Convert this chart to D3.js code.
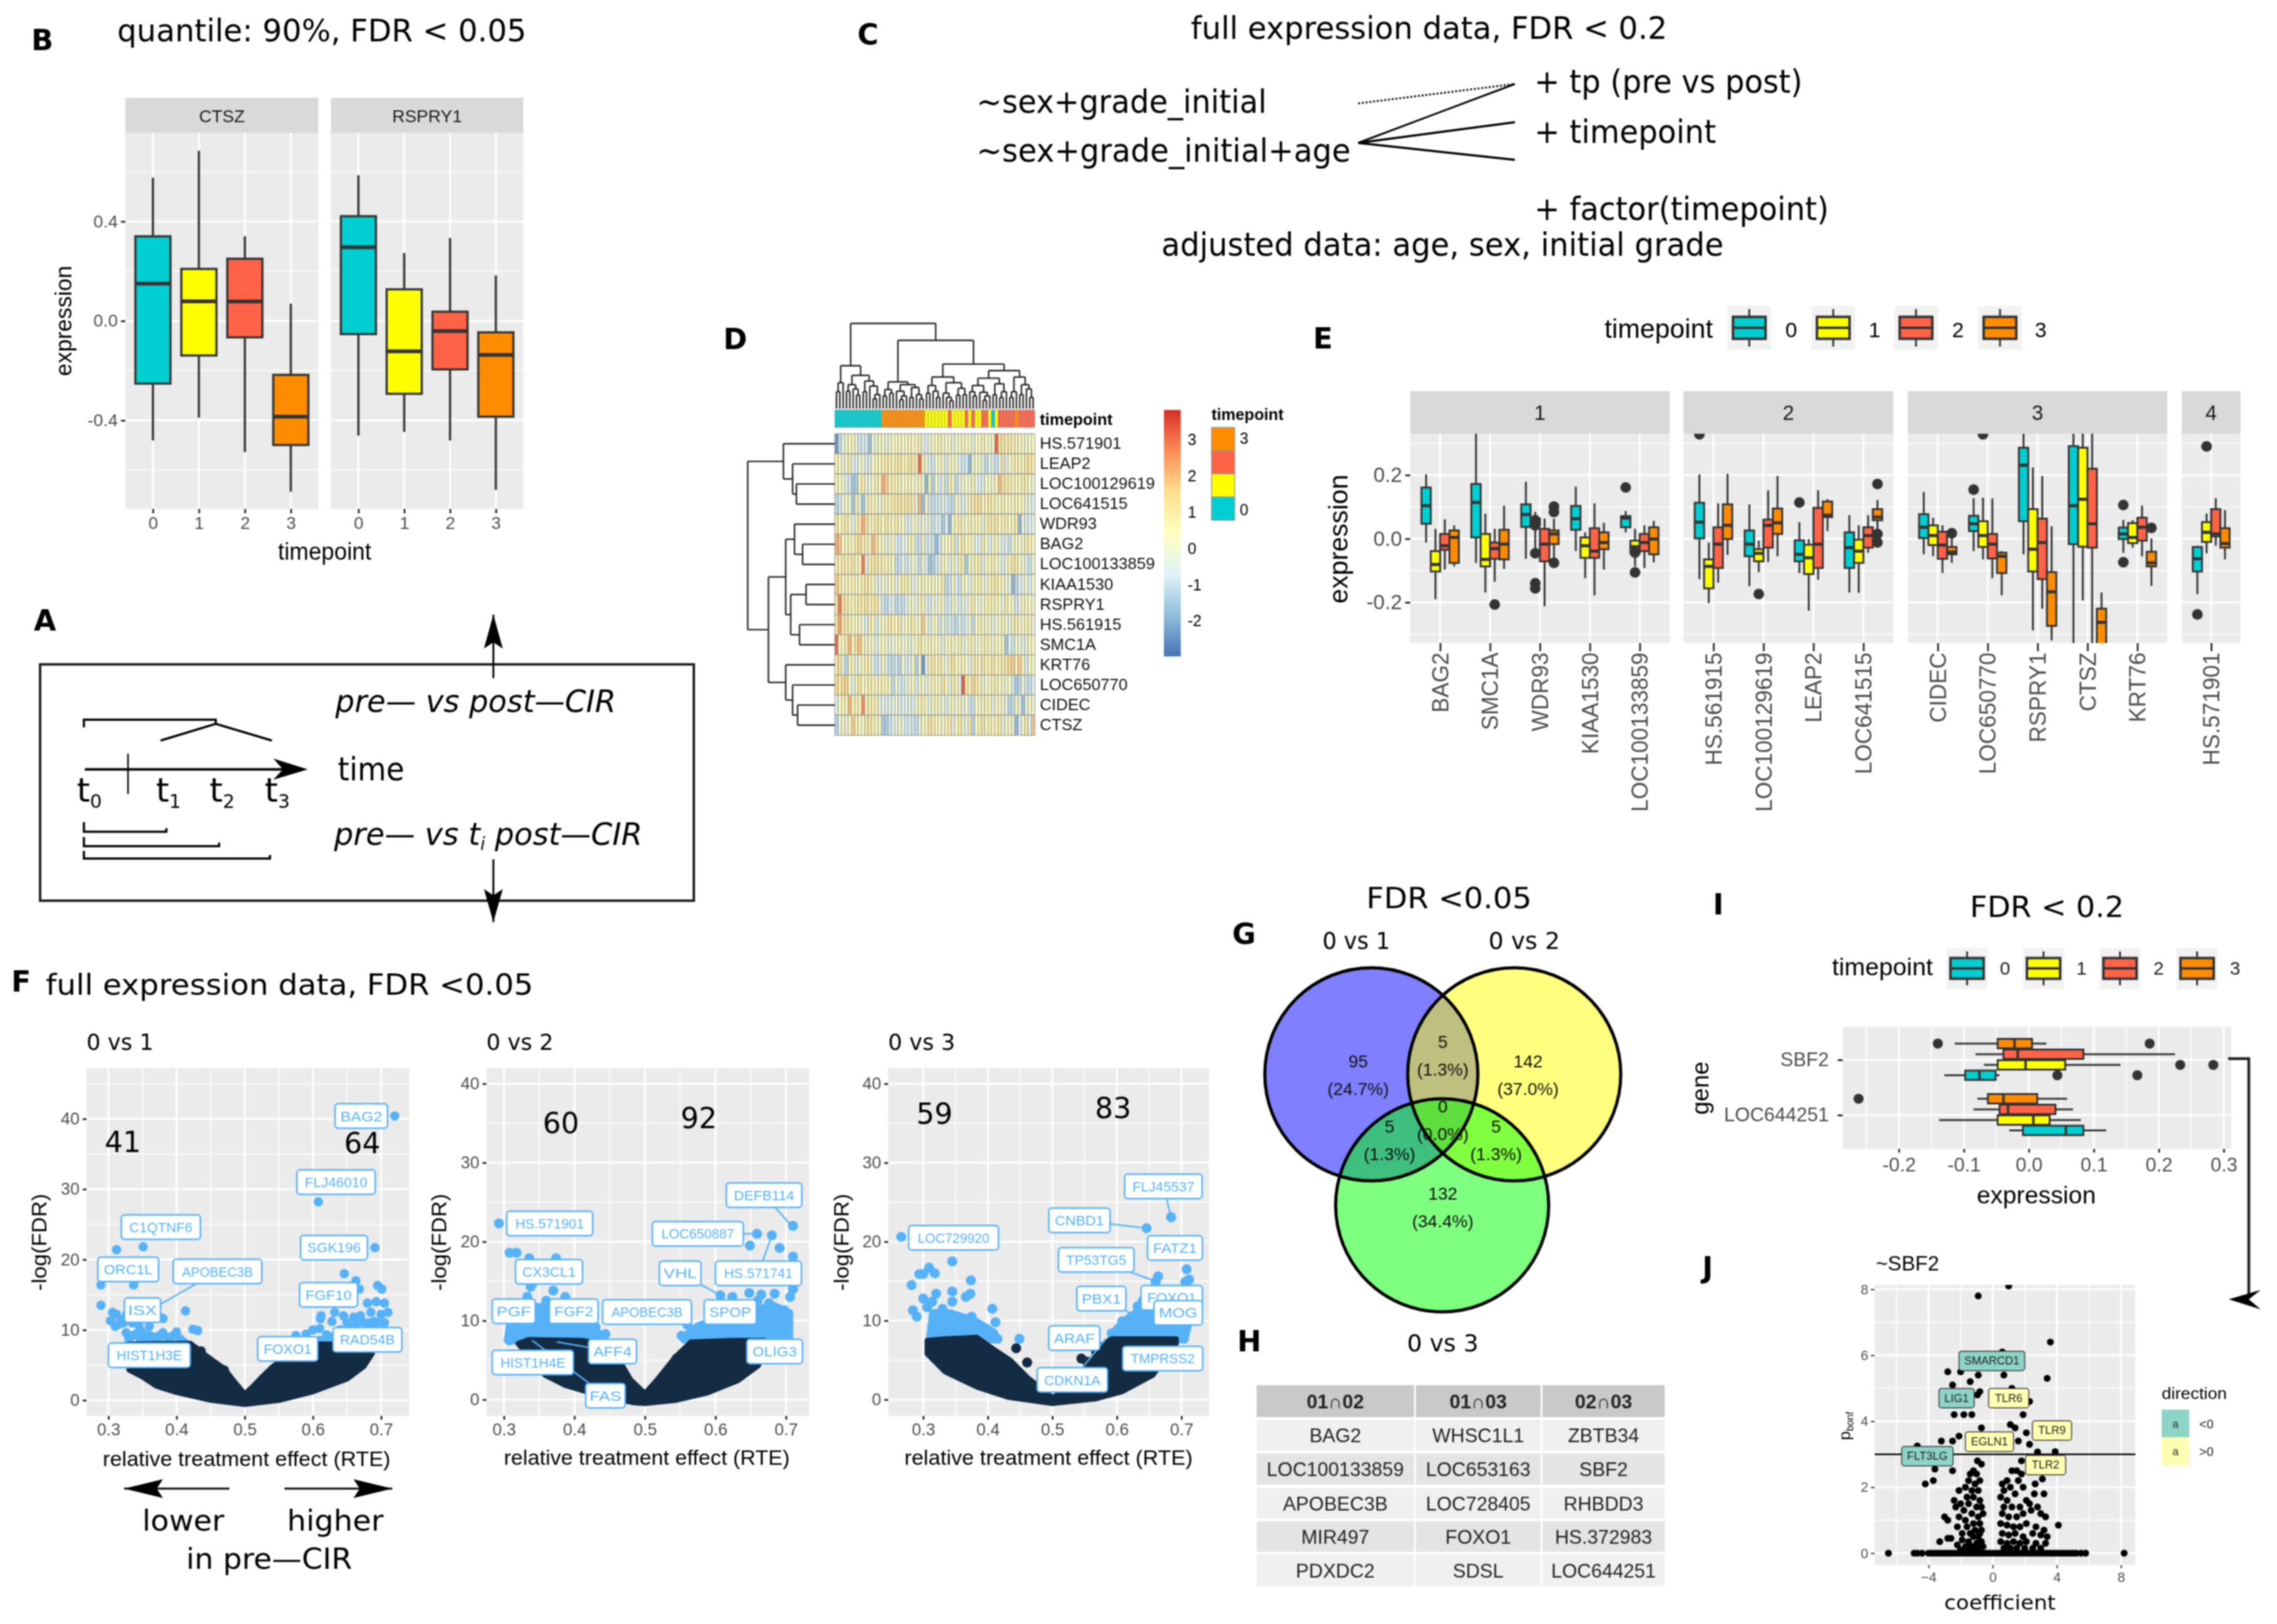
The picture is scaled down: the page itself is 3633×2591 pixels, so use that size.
<!DOCTYPE html>
<html><head><meta charset="utf-8">
<style>html,body{margin:0;padding:0;background:#fff}svg{display:block;filter:blur(1.1px)}</style>
<script src="https://cdn.jsdelivr.net/npm/d3@7"></script></head><body>
<script>
const TP=["0","1","2","3"];
const TP_COLORS=["#00CED1","#FFFF00","#FF6347","#FF8C00"];
// panel B: [whisker high, q3, median, q1, whisker low]
const bCTSZ=[[.576,.34,.15,-.252,-.481],[.684,.209,.079,-.139,-.389],[.34,.25,.078,-.066,-.527],[.069,-.217,-.385,-.499,-.687]];
const bRSPRY1=[[.585,.421,.296,-.053,-.461],[.273,.127,-.122,-.293,-.446],[.333,.037,-.041,-.195,-.481],[.183,-.046,-.137,-.385,-.679]];
// panel E: [high,q3,median,q1,low,[outliers]]
const eBAG2=[[.202,.161,.104,.047,-.012],[.031,-.039,-.081,-.103,-.19],[.061,.015,-.022,-.035,-.097],[.042,.026,.004,-.076,-.087]];
const eSMC1A=[[.34,.172,.114,.004,-.076],[.079,.015,-.065,-.087,-.169],[.031,-.012,-.031,-.063,-.135,[-.207]],[.104,.028,-.017,-.065,-.095]];
const eWDR93=[[.179,.108,.076,.037,-.063],[.084,.063,.052,.042,-.044,[.058,.042,-.046,-.14,-.156]],[.063,.031,-.017,-.071,-.212],[.063,.026,.015,-.017,-.06,[.101,.084,-.076]]];
const eKIAA1530=[[.164,.103,.063,.028,-.039],[.02,.004,-.022,-.06,-.124],[.111,.033,-.039,-.06,-.178],[.05,.02,-.012,-.033,-.097]];
const eLOC100133859=[[.087,.071,.065,.036,.02,[.161]],[.031,-.006,-.025,-.044,-.087,[-.044,-.106]],[.042,.015,-.012,-.039,-.092],[.056,.036,-.001,-.049,-.074]];
const eHS561915=[[.202,.113,.052,.001,-.127,[.328]],[-.012,-.065,-.087,-.156,-.202],[.111,.036,-.017,-.092,-.138],[.204,.108,.042,-.001,-.051]];
const eLOC100129619=[[.108,.026,-.017,-.055,-.149],[-.006,-.033,-.046,-.071,-.105,[-.174]],[.152,.06,.042,-.028,-.073],[.197,.095,.05,.015,-.055]];
const eLEAP2=[[.052,-.005,-.049,-.071,-.108,[.114]],[-.001,-.019,-.06,-.111,-.226],[.152,.097,-.017,-.092,-.129],[.124,.117,.074,.068,.024]];
const eLOC641515=[[.074,.02,-.028,-.092,-.169],[.042,-.003,-.039,-.076,-.17],[.074,.036,.01,-.028,-.044],[.122,.093,.068,.058,.02,[.172,.015,-.012]]];
const eCIDEC=[[.147,.077,.036,.002,-.049],[.066,.042,.01,-.02,-.055],[.042,.022,-.02,-.063,-.108],[.004,-.026,-.042,-.049,-.076,[.017]]];
const eLOC650770=[[.127,.072,.047,.024,-.039,[.154]],[.129,.055,.01,-.026,-.065,[.328]],[.127,.015,-.017,-.062,-.124],[-.039,-.044,-.055,-.108,-.178]];
const eRSPRY1=[[.34,.286,.231,.055,-.049],[.224,.093,-.033,-.103,-.288],[.197,.063,-.012,-.127,-.22],[.039,-.105,-.167,-.274,-.32]];
const eCTSZ=[[.34,.291,.104,-.017,-.34],[.34,.286,.124,-.025,-.194],[.34,.22,.047,-.028,-.34],[-.169,-.22,-.263,-.343,-.365]];
const eKRT76=[[.059,.035,.015,-.001,-.044,[.106,-.074]],[.058,.049,.004,-.014,-.028],[.104,.066,.036,-.006,-.055],[.001,-.041,-.076,-.087,-.148,[.034]]];
const eHS571901=[[-.022,-.026,-.063,-.103,-.174,[-.238]],[.079,.052,.02,-.01,-.046,[.29]],[.127,.093,.015,.007,-.022],[.09,.033,-.015,-.028,-.065]];
const eFacetNames=["1","2","3","4"];
const eFacet1=["BAG2","SMC1A","WDR93","KIAA1530","LOC100133859"];
const eFacet2=["HS.561915","LOC100129619","LEAP2","LOC641515"];
const eFacet3=["CIDEC","LOC650770","RSPRY1","CTSZ","KRT76"];
const eFacet4=["HS.571901"];
// panel I
const iSBF2=[[-.045,-.051,-.076,-.098,-.13,[.044,.167]],[.141,.056,-.005,-.048,-.069,[.233,.284]],[.225,.084,-.017,-.039,-.082],[.027,.005,-.022,-.048,-.114,[-.14,.186]]];
const iLOC644251=[[.119,.084,.057,-.009,-.03],[.08,.032,.007,-.048,-.138],[.068,.041,-.032,-.045,-.085],[.059,.013,-.039,-.063,-.079,[-.262]]];
// panel D
const hmRows=["HS.571901","LEAP2","LOC100129619","LOC641515","WDR93","BAG2","LOC100133859","KIAA1530","RSPRY1","HS.561915","SMC1A","KRT76","LOC650770","CIDEC","CTSZ"];
const hmTime=[0,0,0,0,0,0,0,0,0,0,0,0,0,0,3,3,3,3,3,3,3,3,3,3,3,3,3,1,1,1,1,1,1,1,2,1,1,1,1,2,1,2,1,1,2,2,1,0,1,2,2,2,2,2,3,2,2,2,2,2];
const hmR0=[-2.5,-1.2,-.3,.3,.5,.6,-.2,-.9,-.8,-.7,-1.8,.1,-.1,.5,.1,-.2,.1,.4,.3,.5,.2,.3,.6,.5,.3,.9,-.4,-.6,.1,.4,.6,.8,.3,.2,.4,-.2,.1,.5,.3,.6,.3,-.3,.5,.3,.8,.3,.1,.5,3.3,1.5,1.2,.9,1.1,.7,.8,.6,.2,.1,.3,.5];
const hmR1=[.6,.5,-.4,.4,1,-.6,-.7,.5,-.2,-.4,-.8,.4,.7,.5,.9,.9,.8,.7,1,1,.8,.6,1.1,1.1,.9,3.2,.9,-.2,-.5,-.9,.2,.5,.2,-.9,.4,.5,.1,-.6,-.8,-.8,-1.9,.2,.3,.1,-.1,-1.2,-.2,-.6,-1,-.4,1.4,-.7,.5,.7,.8,.7,.6,1.3,1.2,.9];
const hmR2=[.6,.4,.1,-.4,-.9,-1.6,-1.4,.5,1.1,-.2,-.1,.2,.9,.2,2.3,1.8,.5,.9,.6,.6,.2,.5,.6,.2,.1,.7,.1,-2,.7,-1.4,.3,-.8,-.2,-1.1,.9,.3,-1.2,-.2,.1,.2,.1,.7,-.2,-.5,-.7,.4,.2,.2,.3,2.1,1.2,.9,1,.3,.4,.5,1,.8,.4,-.1];
const hmR3=[-1.2,-.9,.1,.3,.1,-1.6,.8,-.2,-1.7,.1,.8,.6,.3,-.2,1,.7,.4,1.1,1,1,1.1,1.2,.9,1,-.3,2.1,-1.8,.6,-.9,-1,-.9,-.8,-.4,-.8,-1,-1.1,.5,-.4,-.3,-.5,.9,.8,1.4,1.6,.4,.8,1.1,.6,.6,.3,.8,.4,.6,.3,.6,.5,.6,-.3,-.2,-.5];
const hmR4=[1.2,.3,.9,1,.5,-.7,.7,1,2.3,1.3,.3,.8,1.1,1,.4,1.2,.6,.5,1,.2,.5,-.7,-.5,.2,.6,-.5,.1,-.2,-.2,-1,-.5,-.6,-1.5,-.6,-1.9,.4,.7,1,.2,.1,.9,.3,.8,.5,-.3,.8,1.1,.9,1.2,.4,.6,.8,.5,.5,1,-2,.1,-.7,-.6,-.2];
const hmR5=[2.2,2,.3,.4,.7,.5,1.2,1.6,.9,.6,.3,2.1,1.2,.2,.8,-.5,.1,.6,-.7,-.8,-.3,-.3,.7,.6,-.9,-1,.9,-.9,-.5,-.9,-1.9,-.9,.3,.1,.5,.8,-1,.7,.9,.5,.6,.4,-.6,-.5,1,.3,-.7,.3,.7,-.1,-.6,-.5,-1,.2,.3,.2,.1,.9,.8,.5];
const hmR6=[.9,.8,1.1,.6,.8,1.2,.3,.5,3,-.3,.8,1.2,1.1,.8,.9,.5,.6,.4,-1.1,-1,-.3,-.9,-.4,.2,-.3,-1.1,.2,-.7,-1.6,-1.4,-.9,-.2,.6,.3,-.6,.7,-.5,1,.9,-1.6,.5,.2,.8,1,-.7,.6,.6,.8,.4,-.2,-.5,.1,.7,1.2,1,.3,.1,-.4,-1,.2];
const hmR7=[1.8,1.4,.2,.7,.6,.8,.6,.3,1,1.1,.8,.6,-.3,-.4,.2,-.2,.4,.6,-.3,.3,1,.9,.5,-.5,-.2,.3,.7,.2,.5,.1,.6,.3,.9,-1.2,-.9,.4,-.7,-1,.5,.2,-.4,.5,.7,.9,.2,-.3,.8,.9,1.1,.6,.2,.1,-.3,-2,-1.2,-.6,-.3,.3,-.8,.4];
const hmR8=[1.3,3,1.2,.9,.7,.5,.8,1.1,.9,1.2,.7,1,1.1,.2,-.9,-1.1,-.6,-.4,-1.2,-.9,-1.1,-.5,.3,.2,-.4,.6,.8,-.6,-.8,.3,-.5,.5,.2,-.9,-.7,.6,-.3,-.8,.1,-.6,.5,.8,.2,-.3,.4,.7,.9,.5,.6,.3,-.2,1,.4,.2,-.9,-.2,.7,.3,.5,.1];
const hmR9=[1.2,2.5,1.1,.8,.9,.5,.3,.6,-.2,-.6,.9,.5,-.8,.3,.1,.6,1,.9,.4,1,-.3,.5,.6,1,.2,.3,1.9,.2,-.8,.4,.6,-.9,.3,-1,-.4,-.9,-1.2,-.3,-.9,-.6,.2,-1.1,.3,.8,.5,-.1,.6,-.5,.1,.2,.7,.3,-.5,.9,1,.1,.5,.3,.9,-.3];
const hmR10=[3.2,.6,.3,.9,2.2,.4,1.5,2,.6,.1,.5,.1,-.6,.4,.2,.5,-.4,.1,.2,.6,-.2,.3,-.3,.1,.4,1.1,.5,.3,.8,.2,.6,.1,-.5,.7,.4,.6,.2,.9,-.3,.1,.7,.5,-.2,.3,.6,.9,.2,.1,.5,.4,.7,-1.7,-.5,-.9,.3,.1,-.4,-.1,.6,.3];
const hmR11=[.9,1.5,-.3,-1.2,.8,.6,-.4,.2,.5,.7,.9,-.4,-.9,-.7,.8,-.6,-1,-1.2,-.8,-1.3,.3,-.8,-.3,.5,-1.4,.2,-2.5,-.4,.7,1,.6,.9,.3,-.2,.8,1.2,.4,.6,.5,.3,-.5,.8,1,.2,1.2,.6,.7,1.3,.4,.8,.9,1.1,1.6,1.8,.7,1.8,.4,-.8,.5,.3];
const hmR12=[1.5,.9,1.6,1.7,.3,-.5,.6,1.2,.4,.5,.9,.7,.1,.6,.8,.5,.2,-1.2,.3,-.7,-.9,-.2,.1,.5,-.8,.2,.4,-.4,.3,.7,.6,.2,1.2,.5,-.3,.9,.8,-.5,3.4,1.3,.5,1.6,1.1,.6,-.2,.4,.2,.7,.9,.2,.6,.1,.4,-.8,-1.5,-1.2,.2,-.9,-1.1,-.5];
const hmR13=[-.5,.3,.7,.4,2.2,.6,.8,.5,2.8,.4,.9,.7,.6,-.2,-.4,-.6,-.3,-.5,.2,-.5,-.7,-.4,-.2,-.6,.1,.7,.9,.3,-.4,.5,.8,-.1,.4,-.8,.3,.6,.1,.7,-.2,.2,-.9,-1,.4,.6,.1,.8,.5,-.3,.2,.6,.1,-.3,-1.3,-1.1,.6,-.4,-1.7,-.2,.3,.1];
const hmR14=[-1.3,-.4,.6,-.2,.5,1.8,.6,.4,.3,1,1.2,.9,.2,.5,-1.5,-1.4,-.9,-.5,-.3,.4,-.4,-.8,-.6,-.9,-1.1,-.3,.5,.6,1.2,.8,.6,.4,.2,.8,1,-.5,.6,1.1,.2,-.4,1.2,-1.3,.5,.8,1.3,.2,.9,.4,.7,1.1,-.3,.2,.6,-.2,-1.9,-.8,.4,1.1,-.7,1.9];
// merge trees [height, left, right]; 0 = leaf
const dendA=[152,[92,[60,0,0],0],[118,[85,[62,0,0],[70,0,[48,0,0]]],[98,[60,0,0],[80,0,[50,[35,0,0],0]]]]];
const dendB=[95,[68,[45,0,0],[55,0,0]],[85,[62,0,[45,[32,0,0],0]],[75,[40,0,0],[50,0,[35,0,0]]]]];
const dendC=[112,[82,[55,0,0],[62,0,[40,0,0]]],[92,[55,0,[40,0,[28,0,0]]],[72,[48,0,0],[50,0,0]]]];
const dendD=[108,[82,[60,0,[45,0,0]],[58,0,[45,[30,0,0],0]]],[88,[50,0,0],[60,[40,0,0],0]]];
const dendE=[112,[60,[40,0,0],0],[85,[50,0,0],[70,0,[40,0,0]]]];
const dendCols=[302,dendA,[242,dendB,[158,dendC,[135,dendD,dendE]]]];
const dendRows=[227,[134,0,[110,0,[100,0,0]]],[173,[128,[105,0,[84,0,0]],[115,[75,0,0],[92,0,0]]],[128,0,[110,0,[97,0,0]]]]];
// panel F: [RTE, -log(FDR)]
const f1Mass=[[.33,8],[.42,8.1],[.433,7.2],[.44,6.6],[.47,4.5],[.482,3],[.5,.9],[.51,1.8],[.525,3.3],[.541,4.8],[.572,7],[.6,8],[.633,8],[.687,7],[.687,6.6],[.675,4.8],[.65,3],[.6,1.2],[.552,0],[.5,-.6],[.45,0],[.4,1.1],[.37,2],[.35,3.3],[.33,4.3]];
const f1Dark=[[.436,7],[.447,5.7],[.47,4.3],[.48,2.6],[.545,4.4]];
const f1Light=[[.72,40.4],[.608,28.2],[.312,21.4],[.351,21.8],[.691,21.7],[.289,16.4],[.337,16.4],[.289,13.5],[.646,18],[.663,17],[.668,15.8],[.695,16.3],[.701,15.8],[.413,12.7],[.424,10.1],[.431,9.9],[.632,12.5],[.303,11.3],[.306,12.5],[.312,12.2],[.318,11.5],[.322,11],[.31,10.5],[.326,9.6],[.33,8.9],[.335,9.2],[.34,9.4],[.345,9],[.35,9.6],[.355,8.8],[.36,9.2],[.365,9],[.37,8.8],[.375,9.2],[.38,9.6],[.385,9],[.39,8.7],[.395,9.2],[.4,9.7],[.405,8.7],[.327,12.3],[.335,11],[.345,10.5],[.36,10.5],[.375,11.8],[.38,11.6],[.33,8.2],[.345,8],[.36,8],[.375,8],[.39,8],[.41,8.3],[.315,10.8],[.575,9.2],[.59,9.4],[.6,10],[.61,10.2],[.611,11.6],[.612,12],[.62,9.3],[.628,11.2],[.645,12],[.65,11],[.655,10.5],[.66,11.8],[.665,11],[.67,12],[.675,11],[.68,13.8],[.682,11],[.685,12.5],[.69,11.2],[.693,14],[.695,11],[.7,12.2],[.705,13.8],[.71,12.5],[.705,11],[.69,10.5],[.68,10],[.66,10],[.64,10],[.63,9],[.62,8.5],[.61,8.5],[.645,9],[.66,9],[.675,9],[.69,9]];
const f1Labels=[["BAG2",.671,40.4,.077],["FLJ46010",.634,31,.115],["C1QTNF6",.377,24.6,.116],["SGK196",.631,21.7,.098],["ORC1L",.329,18.6,.089],["APOBEC3B",.46,18.3,.13,.338,11.5],["ISX",.35,12.8,.053],["FGF10",.623,15,.085],["FOXO1",.563,7.3,.088],["RAD54B",.68,8.6,.101],["HIST1H3E",.36,6.4,.12]];
const f2Mass=[[.32,7.1],[.335,7.6],[.41,7.5],[.439,7.1],[.461,5.4],[.48,2.5],[.5,.8],[.517,2.5],[.543,5.4],[.565,7.3],[.624,7.5],[.669,7.5],[.669,6.1],[.661,4.3],[.632,2.4],[.587,.8],[.543,-.1],[.5,-.5],[.484,-.4],[.432,.6],[.387,1.8],[.358,3.1]];
const f2BandL=[[.305,7.5],[.31,10.5],[.33,11.5],[.37,12],[.4,10.8],[.42,9.5],[.44,8],[.44,7.4]];
const f2BandR=[[.555,7.6],[.565,8.8],[.58,9.5],[.62,10],[.65,11],[.68,12],[.705,11],[.705,7.6]];
const f2Dark=[[.545,5.2]];
const f2Light=[[.293,22.3],[.308,18.6],[.318,18.6],[.336,17.9],[.374,17.9],[.338,14.3],[.37,13.8],[.308,7.5],[.333,13],[.387,13],[.552,8.1],[.71,22],[.659,21],[.68,20.8],[.649,19.5],[.691,19.2],[.71,18.1],[.71,14],[.706,13],[.607,13.2],[.624,13],[.648,13.5],[.665,13.3],[.684,13.4],[.676,12.2],[.698,11.3],[.669,10.9],[.697,9.6],[.31,10.3],[.345,11.6],[.38,10.8],[.41,9.8],[.43,9.2],[.444,8.3],[.32,9],[.42,9],[.36,12.5],[.6,10],[.59,9.2],[.56,9.5],[.64,12],[.655,11.5],[.66,12.5]];
const f2Labels=[["DEFB114",.669,25.9,.107,.708,22],["HS.571901",.365,22.3,.122],["LOC650887",.575,21,.129,.659,21],["HS.571741",.661,16,.122,.68,20.8],["VHL",.55,16,.059,.607,13.2],["CX3CL1",.364,16.2,.095,.325,12.5],["PGF",.314,11.2,.061],["FGF2",.399,11.2,.069],["APOBEC3B",.503,11.1,.126],["SPOP",.621,11.1,.074],["AFF4",.454,6.1,.068,.375,7.3],["OLIG3",.684,6.1,.079],["HIST1H4E",.341,4.7,.115],["FAS",.444,.5,.056,.34,7.5]];
const f3Mass=[[.306,7.5],[.334,7.7],[.383,7.9],[.407,6.5],[.435,5],[.463,2.7],[.5,.3],[.527,1.4],[.551,3.9],[.576,6.9],[.592,7.7],[.692,7.7],[.692,7.1],[.656,3.1],[.608,1],[.568,.1],[.5,-.5],[.431,.3],[.383,1.6],[.334,3.5],[.306,5.8]];
const f3BandL=[[.31,7.6],[.315,11],[.34,11],[.38,10],[.41,8.5],[.415,7.6]];
const f3BandR=[[.59,7.6],[.6,9],[.62,10.5],[.65,12],[.7,12],[.712,10],[.705,7.6]];
const f3Dark=[[.444,6.5],[.461,4.7],[.545,5.2],[.554,4.8],[.568,6]];
const f3Light=[[.266,20.6],[.345,17.5],[.309,16.7],[.294,15.9],[.3,15.9],[.318,16],[.282,14.5],[.374,15.1],[.345,13.7],[.32,13.4],[.3,12.8],[.373,13.4],[.366,13],[.345,12.4],[.314,12.4],[.306,11.7],[.284,11.3],[.29,10.5],[.407,11.5],[.412,9.8],[.449,7.7],[.415,7.7],[.684,23.1],[.646,21.7],[.708,16.5],[.664,15.6],[.66,14.9],[.712,15.2],[.706,14.9],[.632,11.8],[.608,9.9],[.592,8.4],[.704,7.7],[.64,12.5],[.69,13],[.67,11],[.375,10.5],[.36,9.5],[.33,11.5],[.34,10.5]];
const f3Labels=[["FLJ45537",.672,27,.12,.684,23.1],["CNBD1",.542,22.7,.095,.646,21.7],["LOC729920",.347,20.5,.139],["FATZ1",.69,19.2,.085],["TP53TG5",.568,17.7,.117,.66,15],["PBX1",.576,12.8,.076,.632,10.5],["FOXO1",.685,12.9,.095],["MOG",.695,11,.075],["ARAF",.534,7.8,.079],["TMPRSS2",.671,5.2,.124],["CDKN1A",.531,2.5,.109,.583,7.7]];
// panel G
const vennNames=["0 vs 1","0 vs 2","0 vs 3"];
const vennCounts=[95,5,142,0,5,5,132];
// panel H
const tableHead=["01∩02","01∩03","02∩03"];
const tableCol1=["BAG2","LOC100133859","APOBEC3B","MIR497","PDXDC2"];
const tableCol2=["WHSC1L1","LOC653163","LOC728405","FOXO1","SDSL"];
const tableCol3=["ZBTB34","SBF2","RHBDD3","HS.372983","LOC644251"];
// panel J: [coefficient, p]
const jPoints=[[1,8.1],[-.9,7.8],[3.6,6.4],[.6,6.1],[-2.8,5.5],[-2,5.5],[-2.5,5.1],[-1.4,5.2],[-.9,5.4],[.7,5.4],[3.4,5.3],[1.2,5],[-.8,4.9],[-.95,4.8],[2.3,4.6],[-2.4,4.2],[-1.8,4.2],[-1.3,4.2],[1.9,4.2],[-.7,3.8],[1.1,3.9],[1.4,3.8],[2.1,3.65],[-3.2,3.4],[-2.1,3.55],[-2.5,3.4],[-4.7,3.25],[1.6,3.4],[2.3,3.3],[2.8,3.07],[3.9,3.08],[1.8,2.8],[-.95,2.8],[-.7,2.7],[-3.6,2.55],[-2.5,2.5],[-3.7,2.2],[-4.2,2.1],[3.1,2.25],[2.65,2.1],[4.1,.85],
[-1.4,2.4],[-1.2,2.5],[-1,2.4],[-1.5,2.2],[-1.1,2.1],[-.8,2.2],[-1.7,2],[-1.3,1.9],[-.9,1.9],[-2.1,1.9],[-1.6,1.7],[-1.2,1.7],[-.8,1.6],[-2.4,1.6],[-2,1.5],[-1.5,1.5],[-1,1.4],[-.7,1.4],[-2.3,1.4],[-1.8,1.3],[-1.3,1.2],[-.9,1.1],[-.6,1.2],[-3,1.1],[-2.8,1],[-2.1,1.1],[-1.7,1],[-1.2,.9],[-.8,.9],[-2.2,.8],[-1.6,.8],[-1.1,.7],[-.7,.7],[-1.9,.6],[-1.4,.6],[-.9,.5],[-1.2,.5],[-2.8,.45],[-3.3,.35],[-2.6,.45],[-1.9,.4],[-1.5,.35],[-1,.3],[-.7,.35],[-2.2,.25],[-1.7,.2],[-1.3,.2],[-.9,.15],[-.6,.2],[-2,.1],[-1.5,.1],[-1.1,.1],[-.8,.6],
[.6,2.1],[.9,2.2],[1.2,2.5],[1.5,2.5],[1.8,2.4],[.7,1.9],[1.1,2],[1.6,2.2],[1.9,2],[.5,1.7],[.9,1.6],[1.4,1.8],[2.1,1.6],[2.6,1.8],[3.2,1.8],[.7,1.4],[1.2,1.4],[1.7,1.4],[2.3,1.5],[2.8,1.4],[.6,1.2],[1,1.1],[1.5,1.1],[1.9,1.2],[2.4,1.3],[3,1.2],[3.3,1.1],[.5,.9],[.9,.85],[1.3,.8],[1.7,.8],[2.1,.9],[2.7,.8],[3.2,.7],[.6,.6],[1,.55],[1.4,.6],[1.9,.5],[2.5,.6],[3,.55],[3.4,.5],[.5,.35],[.9,.3],[1.3,.35],[1.7,.3],[2.1,.35],[2.7,.3],[3.3,.3],[.7,.15],[1.1,.15],[1.5,.15],[2,.15],[2.5,.15],[3,.15]];
const jZeroCoefs=[-6.5,-4.9,-4.7,-4.4,-4,-3.8,-3.6,-3.4,-3.2,-3,-2.8,-2.6,-2.4,-2.2,-2,-1.8,-1.6,-1.4,-1.2,-1,-.8,-.6,-.4,-.2,0,.2,.4,.6,.8,1,1.2,1.4,1.6,1.8,2,2.2,2.4,2.6,2.8,3,3.2,3.4,3.6,3.8,4,4.2,4.4,4.6,4.8,5,5.2,5.5,5.8,8.2];
const jLabels=[["SMARCD1",-.05,5.83,4.1,0],["LIG1",-2.25,4.7,2.2,0],["TLR6",1,4.7,2.5,1],["TLR9",3.7,3.72,2.44,1],["EGLN1",-.2,3.38,3,1],["FLT3LG",-4.07,2.94,3.2,0],["TLR2",3.3,2.67,2.5,1]];

const LIB="'Liberation Sans',Arial,sans-serif", DJV="'DejaVu Sans',sans-serif";
const TICK="#4D4D4D",BG="#EBEBEB",STRIP="#D9D9D9",LIGHT="#56B1F7",DARK="#132B43";
const W=3633,H=2591;
const svg=d3.select("body").append("svg").attr("width",W).attr("height",H).attr("viewBox",`0 0 ${W} ${H}`);
svg.append("rect").attr("width",W).attr("height",H).attr("fill","#fff");
const defs=svg.append("defs");
let clipN=0;
function T(g,str,x,y,o={}){
  const t=g.append("text").attr("x",x).attr("y",y).text(str)
    .attr("font-family",o.fam||LIB).attr("font-size",o.size||28)
    .attr("text-anchor",o.anchor||"start").attr("fill",o.fill||"#000");
  if(o.weight)t.attr("font-weight",o.weight);
  if(o.style)t.attr("font-style",o.style);
  if(o.len)t.attr("textLength",o.len).attr("lengthAdjust","spacingAndGlyphs");
  if(o.rot)t.attr("transform",`rotate(${o.rot} ${x} ${y})`);
  return t;
}
function L(g,x1,y1,x2,y2,c="#000",w=3){return g.append("line").attr("x1",x1).attr("y1",y1).attr("x2",x2).attr("y2",y2).attr("stroke",c).attr("stroke-width",w);}
function panelBg(g,x0,x1,y0,y1){g.append("rect").attr("x",x0).attr("y",y0).attr("width",x1-x0).attr("height",y1-y0).attr("fill",BG);}
function clip(x0,x1,y0,y1){const id="c"+(clipN++);defs.append("clipPath").attr("id",id).append("rect").attr("x",x0).attr("y",y0).attr("width",x1-x0).attr("height",y1-y0);return `url(#${id})`;}
function styleAxis(s,size,w=3){s.select(".domain").remove();s.selectAll(".tick line").attr("stroke","#333").attr("stroke-width",w);
  s.selectAll("text").attr("fill",TICK).attr("font-size",size).attr("font-family",LIB);}
function grid(g,r,xs,xm,ys,ym,mw=3){
  const [x0,x1,y0,y1]=r;
  ym.forEach(v=>L(g,x0,ys(v),x1,ys(v),"#fff",mw/2));
  xm.forEach(v=>L(g,xs(v),y0,xs(v),y1,"#fff",mw/2));
}
function grid2(g,r,xs,xM,ys,yM,mw=3){
  const [x0,x1,y0,y1]=r;
  yM.forEach(v=>L(g,x0,ys(v),x1,ys(v),"#fff",mw));
  xM.forEach(v=>L(g,xs(v),y0,xs(v),y1,"#fff",mw));
}
function vbox(g,cx,w,y,d,c,sw,mw){
  L(g,cx,y(d[0]),cx,y(d[4]),"#333",sw);
  g.append("rect").attr("x",cx-w/2).attr("y",y(d[1])).attr("width",w).attr("height",y(d[3])-y(d[1])).attr("fill",c).attr("stroke","#333").attr("stroke-width",sw);
  L(g,cx-w/2,y(d[2]),cx+w/2,y(d[2]),"#333",mw);
}
function hbox(g,cy,h,x,d,c,sw,mw){
  L(g,x(d[4]),cy,x(d[0]),cy,"#333",sw);
  g.append("rect").attr("y",cy-h/2).attr("x",x(d[3])).attr("height",h).attr("width",x(d[1])-x(d[3])).attr("fill",c).attr("stroke","#333").attr("stroke-width",sw);
  L(g,x(d[2]),cy-h/2,x(d[2]),cy+h/2,"#333",mw);
}
function key(g,x0,w,y0,h,pad,wh,c,sw){
  g.append("rect").attr("x",x0).attr("y",y0).attr("width",w).attr("height",h).attr("fill","#F2F2F2");
  const cx=x0+w/2,cy=y0+h/2;
  L(g,cx,y0+h/2-wh,cx,y0+h/2+wh,"#333",sw);
  g.append("rect").attr("x",x0+pad).attr("y",y0+h*0.25).attr("width",w-2*pad).attr("height",h*0.5).attr("fill",c).attr("stroke","#333").attr("stroke-width",sw+1);
  L(g,x0+pad,cy,x0+w-pad,cy,"#333",sw+1);
}
// Panel letters
[["B",50,80],["A",54,1006],["C",1368,71],["D",1154,557],["E",2095,556],["F",18,1582],["G",1966,1506],["H",1974,2156],["I",2733,1459],["J",2716,2038]].forEach(d=>T(svg,d[0],d[1],d[2],{fam:DJV,size:46,weight:"bold"}));

// ---- Panel B
{
  const g=svg.append("g");
  T(g,"quantile: 90%, FDR < 0.05",187,66,{fam:DJV,size:50,len:653});
  const y=d3.scaleLinear([-.756,.756],[812,212]);
  [[ "CTSZ",bCTSZ,200,508],["RSPRY1",bRSPRY1,528,835]].forEach(([n,data,x0,x1])=>{
    panelBg(g,x0,x1,212,812);
    g.append("rect").attr("x",x0).attr("y",156).attr("width",x1-x0).attr("height",56).attr("fill",STRIP);
    T(g,n,(x0+x1)/2,195,{anchor:"middle",size:28,fill:"#1A1A1A"});
    const x=d3.scalePoint(TP,[x0,x1]).padding(.6);
    grid(g,[x0,x1,212,812],x,[],y,[-.6,-.2,.2,.6]);
    grid2(g,[x0,x1,212,812],x,TP,y,[-.4,0,.4]);
    data.forEach((d,i)=>vbox(g,x(TP[i]),56,y,d,TP_COLORS[i],3.5,6));
    g.append("g").attr("transform","translate(0,812)").call(d3.axisBottom(x).tickSize(7).tickPadding(5)).call(s=>styleAxis(s,28));
    if(n==="CTSZ")g.append("g").attr("transform",`translate(${x0},0)`).call(d3.axisLeft(y).tickValues([-.4,0,.4]).tickFormat(d=>d.toFixed(1)).tickSize(7).tickPadding(5)).call(s=>styleAxis(s,28));
  });
  T(g,"expression",114,512,{anchor:"middle",size:36,rot:-90,len:176});
  T(g,"timepoint",518,893,{anchor:"middle",size:38,len:149});
}
// ---- Panel A
{
  const g=svg.append("g");
  g.append("rect").attr("x",64).attr("y",1060).attr("width",1043).attr("height",377).attr("fill","none").attr("stroke","#222").attr("stroke-width",4);
  const Y=p=>950+.3827*p, X=p=>p*.765;
  const arrow=(x,y1,y2,hb)=>{L(g,x,y1,x,y2,"#000",3);
    g.append("path").attr("fill","#000").attr("d",`M${x},${y2}L${x+15},${hb+(y2<y1?10:-10)}L${x},${hb}L${x-15},${hb+(y2<y1?10:-10)}Z`);};
  arrow(X(1029),Y(345),Y(80),Y(195));
  arrow(X(1029),Y(1100),Y(1362),Y(1250));
  T(g,"pre— vs post—CIR",535,Y(485),{fam:DJV,style:"italic",size:50,len:448});
  T(g,"time",539,Y(770),{fam:DJV,size:52,len:106});
  const tx=T(g,"pre— vs t",533,Y(1040),{fam:DJV,style:"italic",size:50});
  tx.append("tspan").text("i").attr("font-size",28).attr("dy",8);
  tx.append("tspan").text(" post—CIR").attr("dy",-8);
  tx.attr("textLength",492).attr("lengthAdjust","spacingAndGlyphs");
  const path=pts=>g.append("path").attr("d",d3.line()(pts)).attr("fill","none").attr("stroke","#000").attr("stroke-width",3.5);
  path([[X(175),Y(550)],[X(175),Y(518)],[X(450),Y(518)],[X(450),Y(535)]]);
  path([[X(335),Y(605)],[X(450),Y(535)],[X(567),Y(605)]]);
  L(g,X(177),Y(725),X(600),Y(725),"#000",4);
  L(g,X(267),Y(660),X(267),Y(828),"#000",2.5);
  g.append("path").attr("fill","#000").attr("d",`M${X(642)},${Y(725)}L${X(570)},${Y(680)}L${X(590)},${Y(725)}L${X(570)},${Y(768)}Z`);
  [["0",160],["1",325],["2",437],["3",552]].forEach(([s,p])=>{
    const t=T(g,"t",X(p),Y(860),{fam:DJV,size:54});
    t.append("tspan").text(s).attr("font-size",30).attr("dy",10);
  });
  [[945,985,347],[1007,1045,457],[1065,1097,563]].forEach(([a,b,c])=>path([[X(175),Y(a)],[X(175),Y(b)],[X(c),Y(b)],[X(c),Y(b-15)]]));
}
// ---- Panel C
{
  const g=svg.append("g");
  T(g,"full expression data, FDR < 0.2",1900,62,{fam:DJV,size:50,len:760});
  T(g,"~sex+grade_initial",1558,180,{fam:DJV,size:52,len:463});
  T(g,"~sex+grade_initial+age",1558,258,{fam:DJV,size:52,len:597});
  T(g,"+ tp (pre vs post)",2448,148,{fam:DJV,size:52,len:428});
  T(g,"+ timepoint",2448,228,{fam:DJV,size:52,len:290});
  T(g,"+ factor(timepoint)",2448,351,{fam:DJV,size:52,len:470});
  T(g,"adjusted data: age, sex, initial grade",1853,408,{fam:DJV,size:52,len:897});
  L(g,2167,165,2417,134,"#000",3).attr("stroke-dasharray","3 3");
  L(g,2167,228,2417,134,"#000",3);L(g,2167,228,2417,195,"#000",3.5);L(g,2167,228,2417,255,"#000",3.5);
}
// ---- Panel D
{
  const g=svg.append("g");
  const hm=[hmR0,hmR1,hmR2,hmR3,hmR4,hmR5,hmR6,hmR7,hmR8,hmR9,hmR10,hmR11,hmR12,hmR13,hmR14];
  const cols=d3.range(60);
  const x=d3.scaleBand(cols,[1332,1651]);
  const y=d3.scaleBand(hmRows,[692,1173]);
  const col=d3.scaleLinear([-2.96,-1.83,-.7,.43,1.56,2.69,3.82],["#4575B4","#91BFDB","#E0F3F8","#FFFFBF","#FEE090","#FC8D59","#D73027"]).clamp(true);
  hm.forEach((row,r)=>row.forEach((v,c)=>{
    g.append("rect").attr("x",x(c)).attr("y",y(hmRows[r])).attr("width",x.bandwidth()).attr("height",y.bandwidth()).attr("fill",col(v)).attr("stroke","#999").attr("stroke-width",1.3);
  }));
  hmTime.forEach((t,c)=>g.append("rect").attr("x",x(c)).attr("y",654).attr("width",x.bandwidth()).attr("height",28).attr("fill",TP_COLORS[t]).attr("stroke","#999").attr("stroke-width",.8));
  T(g,"timepoint",1659,678,{size:25,weight:"bold",len:116});
  hmRows.forEach(r=>T(g,r,1659,y(r)+y.bandwidth()/2+8,{size:26}).attr("fill","#111"));
  // dendrograms
  const dy=d3.scaleLinear([0,302],[652,516]);
  let i=0; const segs=[];
  const walk=(n,pos)=>{if(n===0){const p=pos(i++);return [p,0];}
    const a=walk(n[1],pos),b=walk(n[2],pos);
    segs.push([a[0],a[1],a[0],n[0]],[a[0],n[0],b[0],n[0]],[b[0],n[0],b[0],b[1]]);
    return [(a[0]+b[0])/2,n[0]];};
  walk(dendCols,c=>x(c)+x.bandwidth()/2);
  segs.forEach(s=>L(g,s[0],dy(s[1]),s[2],dy(s[3]),"#222",2.4));
  i=0; segs.length=0;
  const dx=d3.scaleLinear([0,227],[1332,1193]);
  walk(dendRows,r=>y(hmRows[r])+y.bandwidth()/2);
  segs.forEach(s=>L(g,dx(s[1]),s[0],dx(s[3]),s[2],"#222",2.4));
  // colour bar
  const ly=d3.scaleLinear([-2.96,3.82],[1046,654]);
  d3.range(-2.96,3.82,.03).forEach(v=>g.append("rect").attr("x",1857).attr("y",ly(v+.03)).attr("width",27).attr("height",3).attr("fill",col(v)));
  [3,2,1,0,-1,-2].forEach(v=>T(g,String(v),1895,ly(v)+9,{size:25}));
  T(g,"timepoint",1933,670,{size:25,weight:"bold",len:115});
  [3,2,1,0].forEach((t,k)=>g.append("rect").attr("x",1933).attr("y",682+k*37).attr("width",37).attr("height",37).attr("fill",TP_COLORS[t]).attr("stroke","#999").attr("stroke-width",1.5));
  T(g,"3",1978,708,{size:25});T(g,"0",1978,822,{size:25});
}
// ---- Panel E
{
  const g=svg.append("g");
  const eMap={"BAG2":eBAG2,"SMC1A":eSMC1A,"WDR93":eWDR93,"KIAA1530":eKIAA1530,"LOC100133859":eLOC100133859,"HS.561915":eHS561915,"LOC100129619":eLOC100129619,"LEAP2":eLEAP2,"LOC641515":eLOC641515,"CIDEC":eCIDEC,"LOC650770":eLOC650770,"RSPRY1":eRSPRY1,"CTSZ":eCTSZ,"KRT76":eKRT76,"HS.571901":eHS571901};
  T(g,"timepoint",2560,539,{size:42,len:173});
  [[2756,2858],[2890,2991],[3022,3124],[3156,3256]].forEach(([x0,lx],i)=>{
    key(g,x0,70,488,70,9,30,TP_COLORS[i],3);
    T(g,TP[i],lx,538,{size:34,anchor:"middle"});
  });
  const y=d3.scaleLinear([-.2,.2],[961,758]);
  const y0=692,y1=1026;
  const facets=[[eFacet1,2250,2664],[eFacet2,2686,3021],[eFacet3,3044,3458],[eFacet4,3481,3575]];
  facets.forEach(([genes,x0,x1],fi)=>{
    panelBg(g,x0,x1,y0,y1);
    g.append("rect").attr("x",x0).attr("y",624).attr("width",x1-x0).attr("height",68).attr("fill",STRIP);
    T(g,eFacetNames[fi],(x0+x1)/2,670,{anchor:"middle",size:33,fill:"#1A1A1A"});
    const x=d3.scalePoint(genes,[x0,x1]).padding(.6);
    grid(g,[x0,x1,y0,y1],x,[],y,[-.3,-.1,.1,.3]);
    grid2(g,[x0,x1,y0,y1],x,genes,y,[-.2,0,.2]);
    const inner=g.append("g").attr("clip-path",clip(x0,x1,y0,y1));
    const w=x.step()*.75/4;
    genes.forEach(gene=>eMap[gene].forEach((d,i)=>{
      const cx=x(gene)+(i-1.5)*w;
      vbox(inner,cx,w,y,d,TP_COLORS[i],3,5);
      (d[5]||[]).forEach(o=>inner.append("circle").attr("cx",cx).attr("cy",y(o)).attr("r",8.5).attr("fill","#333"));
    }));
    const ax=g.append("g").attr("transform",`translate(0,${y1})`).call(d3.axisBottom(x).tickSize(13).tickPadding(10)).call(s=>styleAxis(s,36,3));
    ax.selectAll("text").attr("transform","rotate(-90)").attr("text-anchor","end").attr("dy",".35em").attr("x",-15).attr("y",0);
    if(fi===0)g.append("g").attr("transform",`translate(${x0},0)`).call(d3.axisLeft(y).tickValues([-.2,0,.2]).tickFormat(d=>d.toFixed(1)).tickSize(8).tickPadding(5)).call(s=>styleAxis(s,33));
  });
  T(g,"expression",2150,860,{anchor:"middle",size:42,rot:-90,len:206});
}
// ---- Panel F
function volcano(o){
  const g=svg.append("g");
  const {r,xs,ys}=o; const [x0,x1,y0,y1]=r;
  panelBg(g,x0,x1,y0,y1);
  grid(g,r,xs,[.35,.45,.55,.65],ys,[5,15,25,35,45]);
  grid2(g,r,xs,[.3,.4,.5,.6,.7],ys,[0,10,20,30,40]);
  const inner=g.append("g").attr("clip-path",clip(x0,x1,y0,y1));
  const line=d3.line().x(d=>xs(d[0])).y(d=>ys(d[1])).curve(d3.curveLinearClosed);
  (o.bands||[]).forEach(b=>inner.append("path").attr("d",line(b)).attr("fill",LIGHT).attr("stroke",LIGHT).attr("stroke-width",12).attr("stroke-linejoin","round"));
  o.light.forEach(d=>inner.append("circle").attr("cx",xs(d[0])).attr("cy",ys(d[1])).attr("r",o.pr).attr("fill",LIGHT));
  inner.append("path").attr("d",line(o.mass)).attr("fill",DARK).attr("stroke",DARK).attr("stroke-width",8).attr("stroke-linejoin","round");
  o.dark.forEach(d=>inner.append("circle").attr("cx",xs(d[0])).attr("cy",ys(d[1])).attr("r",o.pr).attr("fill",DARK));
  o.labels.forEach(l=>{if(l.length>4)L(g,xs(l[1]),ys(l[2]),xs(l[4]),ys(l[5]),LIGHT,2.5);});
  o.labels.forEach(l=>{
    const cx=xs(l[1]),cy=ys(l[2]),w=xs(l[1]+l[3])-cx;
    g.append("rect").attr("x",cx-w/2).attr("y",cy-o.lh/2).attr("width",w).attr("height",o.lh).attr("rx",5).attr("fill","#fff").attr("stroke",LIGHT).attr("stroke-width",2.5);
    T(g,l[0],cx,cy+8,{anchor:"middle",size:22,fill:LIGHT,len:w*.8});
  });
  g.append("g").attr("transform",`translate(0,${y1})`).call(d3.axisBottom(xs).tickValues([.3,.4,.5,.6,.7]).tickFormat(d=>d.toFixed(1)).tickSize(6).tickPadding(6)).call(s=>styleAxis(s,27));
  g.append("g").attr("transform",`translate(${x0},0)`).call(d3.axisLeft(ys).tickValues([0,10,20,30,40]).tickSize(6).tickPadding(5)).call(s=>styleAxis(s,27));
  T(g,o.title,x0,o.titleY,{fam:DJV,size:36,len:107});
  T(g,"relative treatment effect (RTE)",o.xlab[0],o.xlab[1],{size:33,len:o.xlab[2]});
  T(g,"-log(FDR)",o.ylab,1982,{anchor:"middle",size:34,rot:-90,len:155});
  o.counts.forEach(c=>T(g,c[0],c[1],c[2],{fam:DJV,size:46,len:58}));
}
volcano({r:[138,653,1704,2259],xs:d3.scaleLinear([.3,.7],[173,608]),ys:d3.scaleLinear([0,40],[2234,1785]),pr:7.5,lh:39,mass:f1Mass,dark:f1Dark,light:f1Light,labels:f1Labels,title:"0 vs 1",titleY:1675,xlab:[164,2339,459],ylab:74,counts:[["41",167,1838],["64",549,1840]]});
volcano({r:[776,1291,1704,2259],xs:d3.scaleLinear([.3,.7],[804,1254]),ys:d3.scaleLinear([0,40],[2233,1729]),pr:8,lh:39,mass:f2Mass,dark:f2Dark,light:f2Light,bands:[f2BandL,f2BandR],labels:f2Labels,title:"0 vs 2",titleY:1675,xlab:[804,2337,456],ylab:712,counts:[["60",866,1808],["92",1086,1800]]});
volcano({r:[1417,1929,1704,2259],xs:d3.scaleLinear([.3,.7],[1473,1885]),ys:d3.scaleLinear([0,40],[2233,1729]),pr:8,lh:39,mass:f3Mass,dark:f3Dark,light:f3Light,bands:[f3BandL,f3BandR],labels:f3Labels,title:"0 vs 3",titleY:1675,xlab:[1443,2337,460],ylab:1354,counts:[["59",1462,1793],["83",1747,1784]]});
{
  const g=svg.append("g");
  T(g,"full expression data, FDR <0.05",73,1587,{fam:DJV,size:46,len:778});
  const harrow=(x1,x2,y,hb)=>{L(g,x1,y,x2,y,"#000",3);const s=x2>x1?1:-1;
    g.append("path").attr("fill","#000").attr("d",`M${x2},${y}L${hb-s*10},${y-15}L${hb},${y}L${hb-s*10},${y+15}Z`);};
  harrow(366,198,2375,250);harrow(454,626,2375,574);
  T(g,"lower",227,2442,{fam:DJV,size:46,len:131});
  T(g,"higher",458,2442,{fam:DJV,size:46,len:154});
  T(g,"in pre—CIR",297,2503,{fam:DJV,size:46,len:265});
}
// ---- Panel G
{
  const g=svg.append("g");
  T(g,"FDR <0.05",2180,1449,{fam:DJV,size:46,len:264});
  T(g,vennNames[0],2110,1514,{fam:DJV,size:38,len:108});
  T(g,vennNames[1],2375,1514,{fam:DJV,size:38,len:114});
  T(g,vennNames[2],2245,2156,{fam:DJV,size:38,len:114});
  const circ=[[2188,1714,"#0000FF"],[2416,1714,"#FFFF00"],[2301,1923,"#00FF00"]];
  circ.forEach(c=>g.append("circle").attr("cx",c[0]).attr("cy",c[1]).attr("r",170).attr("fill",c[2]).attr("fill-opacity",.5));
  circ.forEach(c=>g.append("circle").attr("cx",c[0]).attr("cy",c[1]).attr("r",170).attr("fill","none").attr("stroke","#000").attr("stroke-width",5));
  const total=d3.sum(vennCounts);
  const spots=[[2167,1693],[2302,1662],[2438,1693],[2302,1765],[2217,1797],[2387,1797],[2302,1904]];
  vennCounts.forEach((v,i)=>{
    T(g,String(v),spots[i][0],spots[i][1]+10,{anchor:"middle",size:28,fill:"#111"});
    T(g,`(${(v/total*100).toFixed(1)}%)`,spots[i][0],spots[i][1]+54,{anchor:"middle",size:28,fill:"#111"});
  });
}
// ---- Panel H
{
  const g=svg.append("g");
  const cx=[[2005,2256],[2259,2458],[2461,2656]];
  const rows=[[2210,2261],[2265,2315],[2319,2369],[2374,2423],[2427,2476],[2480,2531]];
  const body=[tableCol1,tableCol2,tableCol3];
  const fills=["#C9C9C9","#F0F0F0","#E4E4E4","#F0F0F0","#E4E4E4","#F0F0F0"];
  rows.forEach((r,ri)=>cx.forEach((c,ci)=>{
    g.append("rect").attr("x",c[0]).attr("y",r[0]).attr("width",c[1]-c[0]).attr("height",r[1]-r[0]).attr("fill",fills[ri]);
    const s=ri===0?tableHead[ci]:body[ci][ri-1];
    T(g,s,(c[0]+c[1])/2,(r[0]+r[1])/2+11,{anchor:"middle",size:31,weight:ri===0?"bold":null,fill:"#222"});
  }));
}
// ---- Panel I
{
  const g=svg.append("g");
  T(g,"FDR < 0.2",3143,1463,{fam:DJV,size:46,len:246});
  T(g,"timepoint",2923,1556,{size:38,len:161});
  [[3106,3199],[3228,3321],[3350,3444],[3473,3566]].forEach(([x0,lx],i)=>{
    key(g,x0,65,1512,66,6,27,TP_COLORS[i],3);
    T(g,TP[i],lx,1555,{size:30,anchor:"middle",fill:"#222"});
  });
  const x=d3.scaleLinear([0,.3],[3237,3548]);
  const r=[2940,3560,1638,1833];
  panelBg(g,r[0],r[1],r[2],r[3]);
  grid(g,r,x,[-.25,-.15,-.05,.05,.15,.25],d=>d,[]);
  grid2(g,r,x,[-.2,-.1,0,.1,.2,.3],d=>d,[]);
  const cats=["SBF2","LOC644251"];
  const y=d3.scalePoint(cats,[1691,1779]);
  cats.forEach(c=>L(g,r[0],y(c),r[1],y(c),"#fff",3));
  const off=[24.5,8,-9,-26];
  [iSBF2,iLOC644251].forEach((set,k)=>set.forEach((d,i)=>{
    const cy=y(cats[k])+off[i];
    hbox(g,cy,15,x,d,TP_COLORS[i],3,4);
    (d[5]||[]).forEach(o=>g.append("circle").attr("cx",x(o)).attr("cy",cy).attr("r",8).attr("fill","#333"));
  }));
  g.append("g").attr("transform","translate(0,1833)").call(d3.axisBottom(x).tickValues([-.2,-.1,0,.1,.2,.3]).tickFormat(d=>d.toFixed(1)).tickSize(6).tickPadding(8)).call(s=>styleAxis(s,31));
  g.append("g").attr("transform","translate(2940,0)").call(d3.axisLeft(y).tickSize(8).tickPadding(14)).call(s=>styleAxis(s,31));
  T(g,"expression",3154,1920,{size:38,len:190});
  T(g,"gene",2726,1736,{anchor:"middle",size:38,rot:-90,len:85});
  g.append("path").attr("d","M3555,1689H3588V2068").attr("fill","none").attr("stroke","#222").attr("stroke-width",4.5);
  g.append("path").attr("fill","#000").attr("d","M3556,2073L3607,2058L3588,2073L3607,2089Z");
}
// ---- Panel J
{
  const g=svg.append("g");
  const SET=["#8DD3C7","#FFFFB3"];
  T(g,"~SBF2",2993,2027,{size:34,len:101});
  const x=d3.scaleLinear([-4,8],[3077,3384]),y=d3.scaleLinear([0,8],[2478,2057]);
  const r=[2991,3407,2050,2497];
  panelBg(g,r[0],r[1],r[2],r[3]);
  grid(g,r,x,[-6,-2,2,6],y,[1,3,5,7]);
  grid2(g,r,x,[-4,0,4,8],y,[0,2,4,6,8]);
  const inner=g.append("g").attr("clip-path",clip(r[0],r[1],r[2],r[3]));
  jZeroCoefs.forEach(c=>inner.append("circle").attr("cx",x(c)).attr("cy",y(0)).attr("r",5.5).attr("fill","#000"));
  jPoints.forEach(d=>inner.append("circle").attr("cx",x(d[0])).attr("cy",y(d[1])).attr("r",5.5).attr("fill","#000"));
  L(g,r[0],y(3),r[1],y(3),"#000",2.5);
  jLabels.forEach(l=>{
    const cx=x(l[1]),cy=y(l[2]),w=x(l[1]+l[3])-cx,h=y(0)-y(.59);
    g.append("rect").attr("x",cx-w/2).attr("y",cy-h/2).attr("width",w).attr("height",h).attr("rx",4).attr("fill",SET[l[4]]).attr("stroke","#333").attr("stroke-width",1.5);
    T(g,l[0],cx,cy+6,{anchor:"middle",size:18,fill:"#222"});
  });
  g.append("g").attr("transform","translate(0,2497)").call(d3.axisBottom(x).tickValues([-4,0,4,8]).tickSize(5).tickPadding(6)).call(s=>styleAxis(s,22,2));
  g.append("g").attr("transform","translate(2991,0)").call(d3.axisLeft(y).tickValues([0,2,4,6,8]).tickSize(6).tickPadding(4)).call(s=>styleAxis(s,22,2));
  T(g,"coefficient",3102,2568,{fam:DJV,size:32,len:178});
  const p=T(g,"p",2952,2275,{anchor:"middle",size:26,rot:-90});
  p.append("tspan").text("bonf").attr("font-size",16).attr("dy",5);
  T(g,"direction",3449,2232,{size:26,len:104});
  [[2249,"a","<0"],[2293,"a",">0"]].forEach((d,i)=>{
    g.append("rect").attr("x",3449).attr("y",d[0]).attr("width",44).attr("height",45).attr("fill",SET[i]);
    T(g,d[1],3471,d[0]+29,{anchor:"middle",size:18,fill:"#333"});
    T(g,d[2],3509,d[0]+30,{size:20,fill:"#222"});
  });
}
</script></body></html>
